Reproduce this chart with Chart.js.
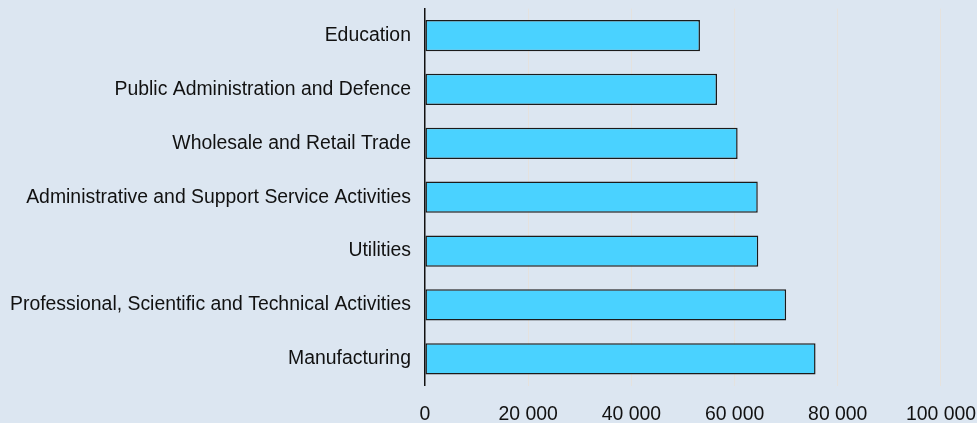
<!DOCTYPE html>
<html>
<head>
<meta charset="utf-8">
<script src="https://cdn.jsdelivr.net/npm/chart.js@4.4.0/dist/chart.umd.min.js"></script>
<style>
  html, body { margin: 0; padding: 0; background: #dce6f1; }
  body { width: 977px; height: 423px; overflow: hidden; position: relative; }
  #wrap { position: absolute; left: 6px; top: -9px; width: 987px; height: 452px; }
</style>
</head>
<body>
<div id="wrap"><canvas id="sectorChart"></canvas></div>
<script>
// sectors, top to bottom
const sectors = [
  "Education",
  "Public Administration and Defence",
  "Wholesale and Retail Trade",
  "Administrative and Support Service Activities",
  "Utilities",
  "Professional, Scientific and Technical Activities",
  "Manufacturing"
];
const salaries = [53300, 56600, 60600, 64500, 64600, 70000, 75700];
const xTicks = [0, 20000, 40000, 60000, 80000, 100000];

// 20000 -> "20 000"
function spaced(v) {
  return String(v).replace(/\B(?=(\d{3})+(?!\d))/g, " ");
}

const labelFont = { family: "'Liberation Sans', Arial, sans-serif", size: 19.4 };

const ctx = document.getElementById("sectorChart");
new Chart(ctx, {
  type: "bar",
  data: {
    labels: sectors,
    datasets: [{
      data: salaries,
      backgroundColor: "#4ad2ff",
      borderColor: "#1b1b1b",
      borderWidth: 1.5,
      borderSkipped: false,
      categoryPercentage: 1,
      barPercentage: 0.58
    }]
  },
  options: {
    indexAxis: "y",
    responsive: true,
    maintainAspectRatio: false,
    animation: false,
    layout: { padding: { top: 0, right: 0, bottom: 0, left: -2 } },
    plugins: {
      legend: { display: false },
      tooltip: { enabled: false }
    },
    scales: {
      x: {
        min: 0,
        max: 100000,
        afterBuildTicks: axis => { axis.ticks = xTicks.map(v => ({ value: v })); },
        grid: { color: "#e5e2de", lineWidth: 1, drawTicks: false },
        border: { display: false },
        ticks: {
          padding: 17,
          color: "#111",
          font: labelFont,
          callback: v => spaced(v)
        }
      },
      y: {
        grid: { display: false },
        border: { display: true, color: "#111", width: 1.5 },
        ticks: {
          padding: 6,
          color: "#111",
          font: labelFont
        }
      }
    }
  }
});
</script>
</body>
</html>
